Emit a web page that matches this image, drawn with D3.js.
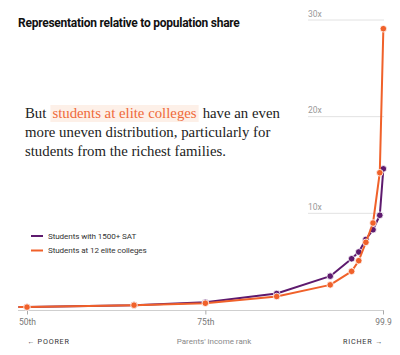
<!DOCTYPE html>
<html><head><meta charset="utf-8">
<script src="https://cdn.jsdelivr.net/npm/d3@7"></script>
<style>
html,body{margin:0;padding:0;background:#fff;}
svg{display:block;}
</style></head>
<body>
<script>
const percentiles = [48.8, 50, 65, 75, 85, 92.5, 95.5, 96.5, 97.5, 98.5, 99.45, 99.95];
const satValues   = [0.3, 0.3, 0.5, 0.8, 1.7, 3.5, 5.3, 6.0, 7.3, 8.3, 9.8, 14.6];
const eliteValues = [0.3, 0.3, 0.5, 0.7, 1.4, 2.6, 4.0, 5.1, 7.0, 9.0, 14.2, 29.1];
const seriesNames = ["Students with 1500+ SAT", "Students at 12 elite colleges"];
const xTickValues = [50, 75, 99.9];
const xTickLabels = ["50th", "75th", "99.9"];
const yTickValues = [10, 20, 30];
const yTickLabels = ["10x", "20x", "30x"];

const W = 400, H = 355;
const colors = ["#5e1a6e", "#f0612a"];
const svg = d3.select("body").append("svg").attr("width", W).attr("height", H);

const x = d3.scaleLinear().domain([50, 99.9]).range([27, 383]);
const y = d3.scaleLinear().domain([0, 30]).range([310, 20]);

// title
svg.append("text").attr("x", 18).attr("y", 27)
  .attr("font-family", "Roboto, 'Liberation Sans', sans-serif").attr("font-weight", 700)
  .attr("font-size", 12).attr("letter-spacing", "-0.25").attr("fill", "#111")
  .text("Representation relative to population share");

// y gridlines
const grid = svg.append("g");
yTickValues.forEach((v, i) => {
  grid.append("line").attr("x1", 308).attr("x2", 384).attr("y1", y(v)).attr("y2", y(v))
    .attr("stroke", "#e2e2e2").attr("stroke-width", 1);
  grid.append("text").attr("x", 308).attr("y", y(v) - 3.5)
    .attr("font-family", "Roboto, sans-serif").attr("font-size", 8.5).attr("fill", "#999")
    .text(yTickLabels[i]);
});

// x axis
svg.append("line").attr("x1", 18).attr("x2", 384).attr("y1", 310.5).attr("y2", 310.5)
  .attr("stroke", "#cfcfcf").attr("stroke-width", 1.2);
const xAxis = d3.axisBottom(x).tickValues(xTickValues).tickSize(4)
  .tickFormat((d, i) => xTickLabels[i]);
const gx = svg.append("g").attr("transform", "translate(0,310.5)").call(xAxis);
gx.select(".domain").remove();
gx.selectAll(".tick line").attr("stroke", "#aaa");
gx.selectAll(".tick text").attr("font-family", "Roboto, sans-serif").attr("font-size", 8.5)
  .attr("fill", "#777").attr("dy", "0.9em");

// bottom labels
const lab = svg.append("g").attr("font-family", "Roboto, sans-serif").attr("font-size", 7.2)
  .attr("fill", "#333").attr("letter-spacing", "0.8");
lab.append("text").attr("x", 27).attr("y", 344).text("← POORER");
lab.append("text").attr("x", 383).attr("y", 344).attr("text-anchor", "end").text("RICHER →");
svg.append("text").attr("x", 214).attr("y", 344).attr("text-anchor", "middle")
  .attr("font-family", "Roboto, sans-serif").attr("font-size", 8).attr("fill", "#888")
  .text("Parents' income rank");

// annotation
const ann = svg.append("g").attr("font-family", "'Liberation Serif', 'DejaVu Serif', serif")
  .attr("font-size", 14.8).attr("fill", "#222");
const hl = ann.append("rect").attr("fill", "#fdf0e8");
const t1 = ann.append("text").attr("x", 25).attr("y", 118);
t1.append("tspan").text("But");
t1.append("tspan").attr("dx", 6).attr("fill", "#ef6a3a").text("students at elite colleges");
t1.append("tspan").attr("dx", 6).text("have an even");
ann.append("text").attr("x", 25).attr("y", 137).text("more uneven distribution, particularly for");
ann.append("text").attr("x", 25).attr("y", 156).text("students from the richest families.");
{
  const n = t1.node();
  const s = n.getStartPositionOfChar(3).x;
  const e = n.getEndPositionOfChar(3 + "students at elite colleges".length - 1).x;
  hl.attr("x", s - 2).attr("y", 105).attr("width", e - s + 4).attr("height", 17);
}

// legend
const leg = svg.append("g");
seriesNames.forEach((name, i) => {
  const ly = 236 + i * 14.5;
  leg.append("line").attr("x1", 31).attr("x2", 43).attr("y1", ly).attr("y2", ly)
    .attr("stroke", colors[i]).attr("stroke-width", 2);
  leg.append("text").attr("x", 48).attr("y", ly + 2.9)
    .attr("font-family", "Roboto, sans-serif").attr("font-size", 8.1).attr("letter-spacing", "-0.1")
    .attr("fill", "#333").text(name);
});

// lines
const series = [satValues, eliteValues];
const line = d3.line().x(d => x(d[0])).y(d => y(d[1]));
series.forEach((vals, si) => {
  const pts = percentiles.map((p, i) => [p, vals[i]]);
  svg.append("path").datum(pts).attr("d", line).attr("fill", "none")
    .attr("stroke", colors[si]).attr("stroke-width", 2).attr("stroke-linejoin", "round");
  svg.append("g").selectAll("circle").data(pts.filter(d => d[0] >= 50)).join("circle")
    .attr("cx", d => x(d[0])).attr("cy", d => y(d[1])).attr("r", 3.3)
    .attr("fill", colors[si]).attr("stroke", "#fff").attr("stroke-width", 0.8);
});
</script>
</body></html>
